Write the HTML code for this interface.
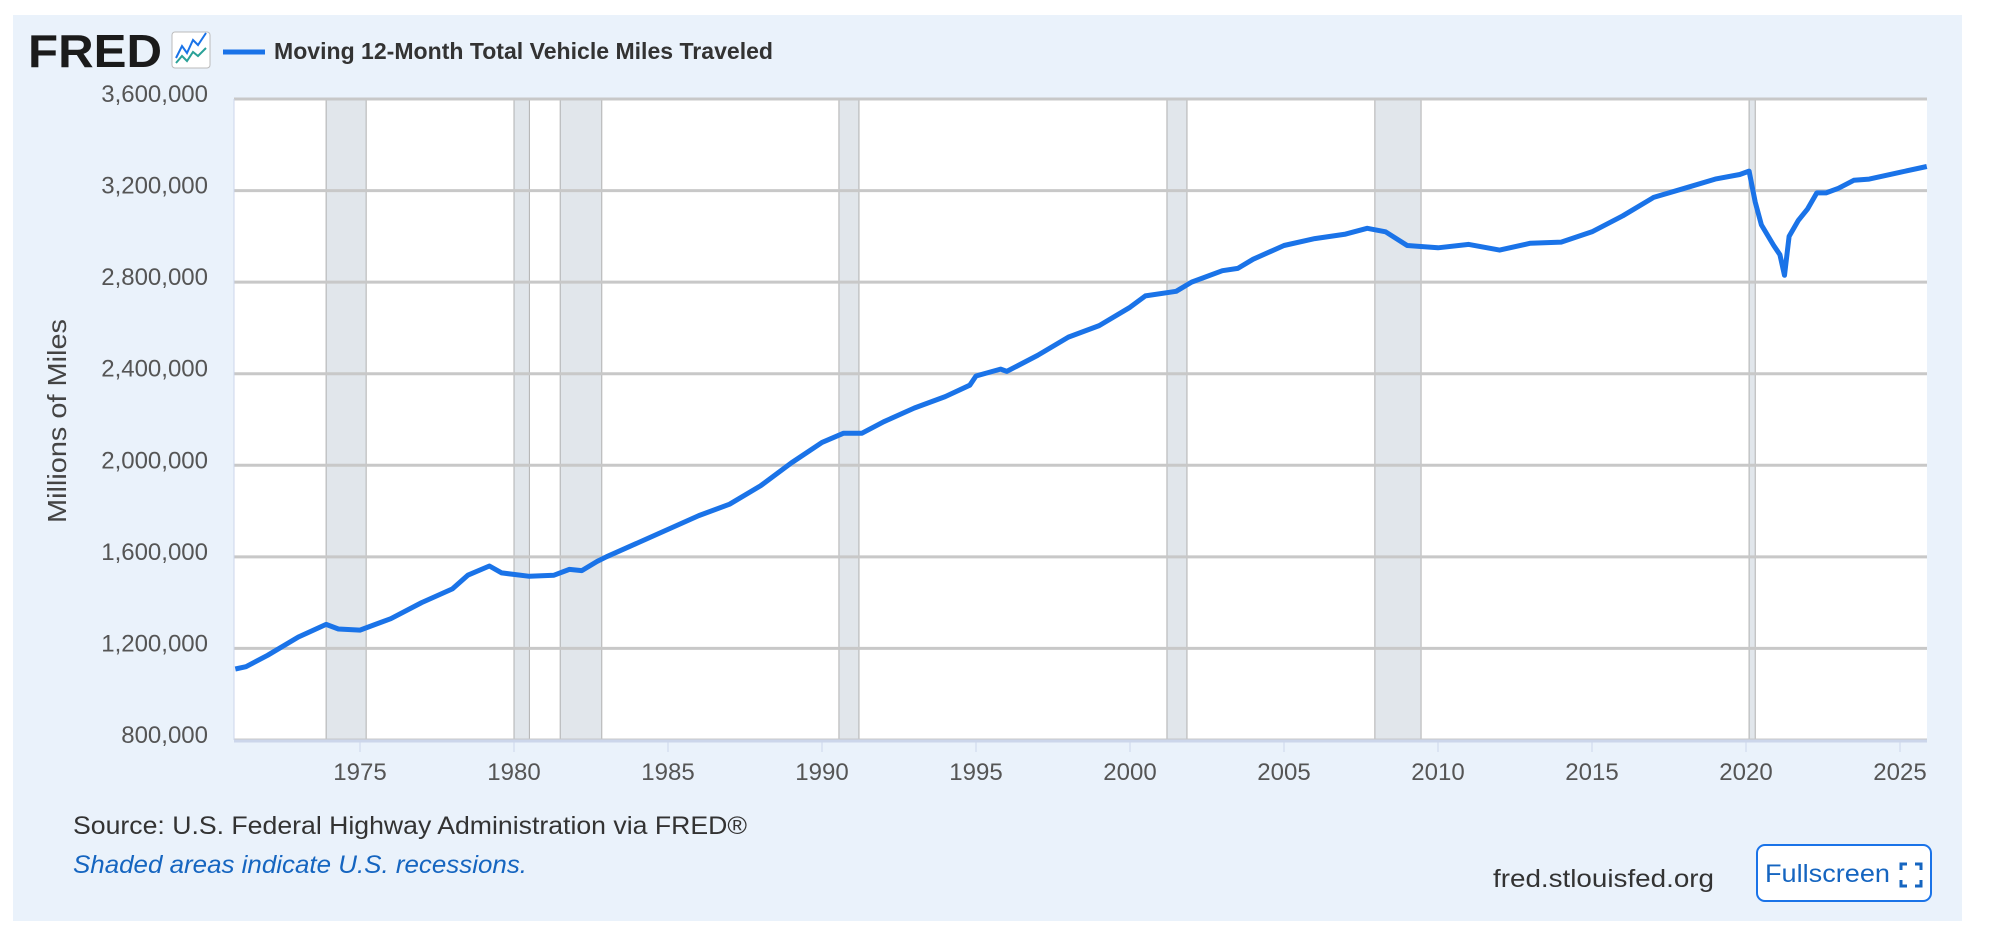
<!DOCTYPE html>
<html><head><meta charset="utf-8"><style>
body{margin:0;width:2000px;height:941px;background:#fff;overflow:hidden;font-family:"Liberation Sans",sans-serif}
</style></head><body>
<svg width="2000" height="941" xmlns="http://www.w3.org/2000/svg" style="position:absolute;left:0;top:0">
<rect x="13" y="15" width="1949" height="906" fill="#eaf2fb"/>
<rect x="234" y="99" width="1693" height="641" fill="#fff"/>
<g id="rec"></g>
<g id="grid" stroke="#c8c8c8" stroke-width="3"></g>
<line x1="234" y1="99" x2="234" y2="740" stroke="#ccd6eb" stroke-width="1"/>
<line x1="234" y1="741" x2="1927" y2="741" stroke="#ccd6eb" stroke-width="3"/>
<g id="ylab" font-size="24" fill="#555" text-anchor="end"></g>
<g id="xlab" font-size="24" fill="#555" text-anchor="middle"></g>
<path id="line" fill="none" stroke="#1a73e8" stroke-width="5" stroke-linejoin="round"/>
<text x="28" y="67" font-size="46" font-weight="bold" fill="#1b1b1b" textLength="134" lengthAdjust="spacingAndGlyphs">FRED</text>
<rect x="172" y="32" width="38" height="36" rx="3" fill="#fff" stroke="#bbb"/>
<polyline points="176,58 182,46 187,53 193,40 198,45 206,33" fill="none" stroke="#1a73e8" stroke-width="2"/>
<polyline points="176,63 182,56 187,61 193,52 198,56 206,48" fill="none" stroke="#2aa198" stroke-width="2"/>
<line x1="223" y1="52" x2="265" y2="52" stroke="#1a73e8" stroke-width="5"/>
<text x="274" y="59" font-size="23" font-weight="bold" fill="#333" textLength="499" lengthAdjust="spacingAndGlyphs">Moving 12-Month Total Vehicle Miles Traveled</text>
<text transform="translate(66,421) rotate(-90)" font-size="26" fill="#444" text-anchor="middle" textLength="204" lengthAdjust="spacingAndGlyphs">Millions of Miles</text>
<text x="73" y="834" font-size="25" fill="#333" textLength="674" lengthAdjust="spacingAndGlyphs">Source: U.S. Federal Highway Administration via FRED®</text>
<text x="73" y="873" font-size="25" fill="#1565c0" font-style="italic" textLength="454" lengthAdjust="spacingAndGlyphs">Shaded areas indicate U.S. recessions.</text>
<text x="1493" y="887" font-size="25" fill="#333" textLength="221" lengthAdjust="spacingAndGlyphs">fred.stlouisfed.org</text>
<rect x="1757" y="845" width="174" height="56" rx="8" fill="#fff" stroke="#1a73e8" stroke-width="2"/>
<text x="1765" y="882" font-size="25" fill="#1565c0" textLength="125" lengthAdjust="spacingAndGlyphs">Fullscreen</text>
<path d="M1901 870v-6h6M1915 864h6v6M1921 880v6h-6M1907 886h-6v-6" fill="none" stroke="#1565c0" stroke-width="3"/>
</svg>
<script>
var X=function(y){return 360+(y-1975)*30.8},Y=function(v){return 99+(3600000-v)/400000*91.57};
var ns="http://www.w3.org/2000/svg";
function el(p,t,a,txt){var e=document.createElementNS(ns,t);for(var k in a)e.setAttribute(k,a[k]);if(txt)e.textContent=txt;document.getElementById(p).appendChild(e);}
[[1973.9,1975.2],[1980.0,1980.5],[1981.5,1982.85],[1990.55,1991.2],[2001.2,2001.85],[2007.95,2009.45],[2020.1,2020.3]].forEach(function(r){el("rec","rect",{x:X(r[0]),y:99,width:X(r[1])-X(r[0]),height:641,fill:"#e1e6eb",stroke:"#b0b0b0","stroke-width":1});});
for(var v=800000;v<=3600000;v+=400000){el("grid","line",{x1:234,x2:1927,y1:Y(v),y2:Y(v)});el("ylab","text",{x:208,y:Y(v)+3},v.toLocaleString("en-US"));}
for(var y=1975;y<=2025;y+=5){el("xlab","text",{x:X(y),y:780},""+y);el("grid","line",{x1:X(y),x2:X(y),y1:742,y2:752,stroke:"#ccd6eb","stroke-width":1});}
var d=[[1970.95,1110000],[1971.3,1120000],[1972,1170000],[1973,1250000],[1973.9,1305000],[1974.3,1285000],[1975,1280000],[1975.5,1305000],[1976,1330000],[1977,1400000],[1978,1460000],[1978.5,1520000],[1979.2,1560000],[1979.6,1530000],[1980.5,1515000],[1981.3,1520000],[1981.8,1545000],[1982.2,1540000],[1982.7,1580000],[1983,1600000],[1984,1660000],[1985,1720000],[1986,1780000],[1987,1830000],[1988,1910000],[1989,2010000],[1990,2100000],[1990.7,2140000],[1991.3,2140000],[1992,2190000],[1993,2250000],[1994,2300000],[1994.8,2350000],[1995,2390000],[1995.8,2420000],[1996,2410000],[1997,2480000],[1998,2560000],[1999,2610000],[2000,2690000],[2000.5,2740000],[2001.5,2760000],[2002,2800000],[2003,2850000],[2003.5,2860000],[2004,2900000],[2005,2960000],[2006,2990000],[2007,3010000],[2007.7,3035000],[2008.3,3020000],[2009,2960000],[2010,2950000],[2011,2965000],[2012,2940000],[2013,2970000],[2014,2975000],[2015,3020000],[2016,3090000],[2017,3170000],[2018,3210000],[2019,3250000],[2019.8,3270000],[2020.1,3285000],[2020.3,3150000],[2020.5,3050000],[2020.9,2960000],[2021.1,2920000],[2021.25,2830000],[2021.4,3000000],[2021.7,3070000],[2022,3120000],[2022.3,3190000],[2022.6,3190000],[2023,3210000],[2023.5,3245000],[2024,3250000],[2025,3280000],[2025.87,3305000]];
document.getElementById("line").setAttribute("d","M"+d.map(function(p){return X(p[0]).toFixed(1)+","+Y(p[1]).toFixed(1)}).join("L"));
</script>
</body></html>
